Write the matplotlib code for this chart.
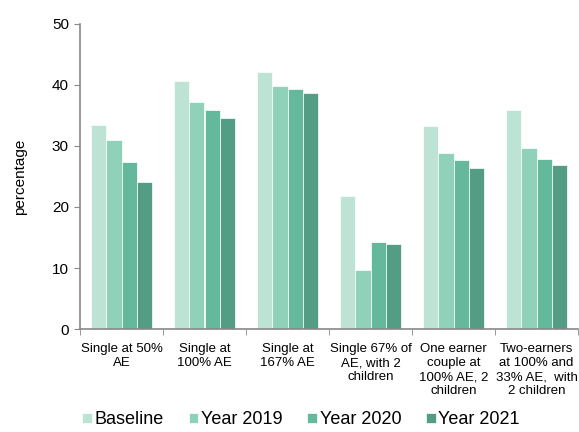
import matplotlib
matplotlib.use("Agg")
import matplotlib.pyplot as plt
import numpy as np

plt.rcParams['font.family'] = ['Liberation Sans', 'DejaVu Sans']

categories = [
    "Single at 50%\nAE",
    "Single at\n100% AE",
    "Single at\n167% AE",
    "Single 67% of\nAE, with 2\nchildren",
    "One earner\ncouple at\n100% AE, 2\nchildren",
    "Two-earners\nat 100% and\n33% AE,  with\n2 children",
]
series_names = ["Baseline", "Year 2019", "Year 2020", "Year 2021"]
baseline = [33.4, 40.6, 42.0, 21.8, 33.2, 35.8]
year_2019 = [30.9, 37.1, 39.7, 9.7, 28.9, 29.6]
year_2020 = [27.4, 35.9, 39.3, 14.3, 27.7, 27.8]
year_2021 = [24.1, 34.5, 38.7, 13.9, 26.3, 26.9]
colors = ["#bde3d5", "#8fd1b9", "#64b99c", "#529d83"]
y_ticks = [0, 10, 20, 30, 40, 50]

series = [baseline, year_2019, year_2020, year_2021]

fig = plt.figure(figsize=(5.79, 4.32), dpi=100)
ax = fig.add_axes([80/579, 1 - 329.3/432, 498/579, (329.3 - 23.5)/432])

x = np.arange(len(categories))
bar_w = 0.183
for i, (vals, name, col) in enumerate(zip(series, series_names, colors)):
    ax.bar(x + (i - 1.5) * bar_w, vals, width=bar_w, color=col,
           edgecolor="white", linewidth=0.5, label=name)

ax.set_xlim(-0.5, len(categories) - 0.5)
ax.set_ylim(0, 50)
ax.set_yticks(y_ticks)
ax.tick_params(axis='y', labelsize=11, length=4, color="#888888", pad=4)

ax.set_xticks(x)
ax.set_xticklabels(categories, fontsize=9.5, linespacing=1.22)
ax.set_xticks(np.arange(-0.5, len(categories)), minor=True)
ax.tick_params(axis='x', which='major', length=0, pad=10)
ax.tick_params(axis='x', which='minor', length=4, color="#888888")

for side in ("top", "right"):
    ax.spines[side].set_visible(False)
for side in ("left", "bottom"):
    ax.spines[side].set_color("#888888")
    ax.spines[side].set_linewidth(1.2)

ax.set_ylabel("percentage", fontsize=11, labelpad=18)

fig.legend(loc="center", bbox_to_anchor=(0.52, 0.028), ncol=4, frameon=False,
           fontsize=13, handlelength=0.55, handleheight=0.55,
           handletextpad=0.15, columnspacing=1.35, borderaxespad=0)

fig.savefig("out.png", dpi=100)
